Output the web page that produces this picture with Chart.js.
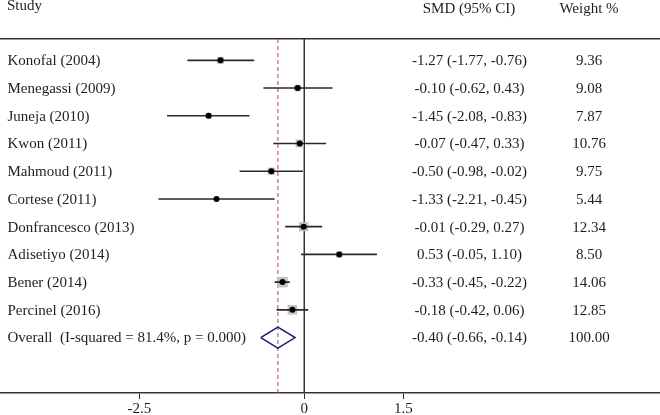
<!DOCTYPE html>
<html>
<head>
<meta charset="utf-8">
<script src="https://cdn.jsdelivr.net/npm/chart.js@4.4.0/dist/chart.umd.min.js"></script>
<style>
  html, body { margin: 0; padding: 0; background: #ffffff; }
  #wrap { position: relative; width: 660px; height: 415px; }
</style>
</head>
<body>
<div id="wrap"><canvas id="c"></canvas></div>
<script>
// ---- data ----
const studies = ['Konofal (2004)', 'Menegassi (2009)', 'Juneja (2010)', 'Kwon (2011)', 'Mahmoud (2011)',
                 'Cortese (2011)', 'Donfrancesco (2013)', 'Adisetiyo (2014)', 'Bener (2014)', 'Percinel (2016)'];
const smd    = [-1.27, -0.10, -1.45, -0.07, -0.50, -1.33, -0.01, 0.53, -0.33, -0.18];
const lower  = [-1.77, -0.62, -2.08, -0.47, -0.98, -2.21, -0.29, -0.05, -0.45, -0.42];
const upper  = [-0.76,  0.43, -0.83,  0.33, -0.02, -0.45,  0.27, 1.10, -0.22,  0.06];
const weights = [9.36, 9.08, 7.87, 10.76, 9.75, 5.44, 12.34, 8.50, 14.06, 12.85];
const overallLabel = 'Overall  (I-squared = 81.4%, p = 0.000)';
const overallEst = -0.40;
const overallLower = -0.66;
const overallUpper = -0.14;
const overallWeight = 100.00;
const xTicks = [-2.5, 0, 1.5];
const headers = ['Study', 'SMD (95% CI)', 'Weight %'];

// ---- build datasets ----
const fmt = v => v.toFixed(2);
const overallRow = studies.length;
const yMin = -0.77, yMax = 12.0;

const ciData = [];
studies.forEach((s, i) => {
  ciData.push({x: lower[i], y: i}, {x: upper[i], y: i}, {x: null, y: null});
});
const boxData = studies.map((s, i) => ({x: smd[i], y: i}));
const dotData = studies.map((s, i) => ({x: smd[i], y: i}));
const dh = 0.38;
const diamond = [
  {x: overallLower, y: overallRow}, {x: overallEst, y: overallRow - dh},
  {x: overallUpper, y: overallRow}, {x: overallEst, y: overallRow + dh},
  {x: overallLower, y: overallRow}
];

const FONT = '"Liberation Serif", "Times New Roman", serif';

const textPlugin = {
  id: 'forestText',
  afterDraw(chart) {
    const ctx = chart.ctx;
    const ys = chart.scales.y;
    ctx.save();
    ctx.fillStyle = '#1e1e1e';
    ctx.font = '15px ' + FONT;
    ctx.textBaseline = 'alphabetic';
    ctx.textAlign = 'left';
    ctx.fillText(headers[0], 7, 10);
    ctx.textAlign = 'center';
    ctx.fillText(headers[1], 469, 13);
    ctx.fillText(headers[2], 589, 13);
    ctx.textBaseline = 'middle';
    studies.forEach((s, i) => {
      const y = ys.getPixelForValue(i) + 1;
      ctx.textAlign = 'left';
      ctx.fillText(s, 7.5, y);
      ctx.textAlign = 'center';
      ctx.fillText(fmt(smd[i]) + ' (' + fmt(lower[i]) + ', ' + fmt(upper[i]) + ')', 469.5, y);
      ctx.fillText(fmt(weights[i]), 589, y);
    });
    const yo = ys.getPixelForValue(overallRow) + 1;
    ctx.textAlign = 'left';
    ctx.fillText(overallLabel, 7.5, yo);
    ctx.textAlign = 'center';
    ctx.fillText(fmt(overallEst) + ' (' + fmt(overallLower) + ', ' + fmt(overallUpper) + ')', 469.5, yo);
    ctx.fillText(fmt(overallWeight), 589, yo);
    ctx.restore();
  }
};

new Chart(document.getElementById('c'), {
  type: 'scatter',
  data: {
    datasets: [
      { // overall effect (dashed red)
        data: [{x: overallEst, y: yMin}, {x: overallEst, y: yMax}],
        showLine: true, borderColor: '#b8404e', borderWidth: 1, borderDash: [4, 3],
        pointRadius: 0, fill: false, clip: false, order: 5
      },
      { // null line
        data: [{x: 0, y: yMin}, {x: 0, y: yMax}],
        showLine: true, borderColor: '#333333', borderWidth: 1,
        pointRadius: 0, fill: false, clip: false, order: 4
      },
      { // weight boxes
        data: boxData, pointStyle: 'rect',
        pointRadius: ctx => (0.75 * weights[ctx.dataIndex]) / 1.414,
        backgroundColor: '#c4c4c4', borderWidth: 0, order: 3
      },
      { // CIs
        data: ciData, showLine: true, spanGaps: false,
        borderColor: '#2a2a2a', borderWidth: 1.6, pointRadius: 0, order: 2
      },
      { // point estimates
        data: dotData, pointStyle: 'circle', pointRadius: 3,
        backgroundColor: '#000000', borderWidth: 0, order: 1
      },
      { // overall diamond
        data: diamond, showLine: true, borderColor: '#1c1c78', borderWidth: 1.5,
        pointRadius: 0, fill: false, order: 0
      }
    ]
  },
  options: {
    responsive: true,
    maintainAspectRatio: false,
    animation: false,
    events: [],
    layout: { autoPadding: false, padding: { top: 39, left: 0, right: 0, bottom: -5 } },
    plugins: { legend: { display: false }, tooltip: { enabled: false } },
    scales: {
      x: {
        type: 'linear', position: 'bottom',
        min: -304.3 / 66, max: (660 - 304.3) / 66,
        afterBuildTicks: axis => { axis.ticks = xTicks.map(v => ({value: v})); },
        grid: { drawOnChartArea: false, drawTicks: true, tickLength: 6, color: '#333333', lineWidth: 1 },
        border: { display: true, color: '#333333', width: 1.5 },
        ticks: { color: '#1e1e1e', font: { family: FONT, size: 15, lineHeight: 1.0 }, padding: 3,
                 maxRotation: 0, autoSkip: false,
                 callback: v => String(v) }
      },
      x2: {
        type: 'linear', position: 'top',
        min: -304.3 / 66, max: (660 - 304.3) / 66,
        ticks: { display: false },
        grid: { display: true, drawOnChartArea: false, drawTicks: false },
        border: { display: true, color: '#333333', width: 1.5 }
      },
      y: {
        type: 'linear', reverse: true, min: yMin, max: yMax, display: false
      }
    }
  },
  plugins: [textPlugin]
});
</script>
</body>
</html>
